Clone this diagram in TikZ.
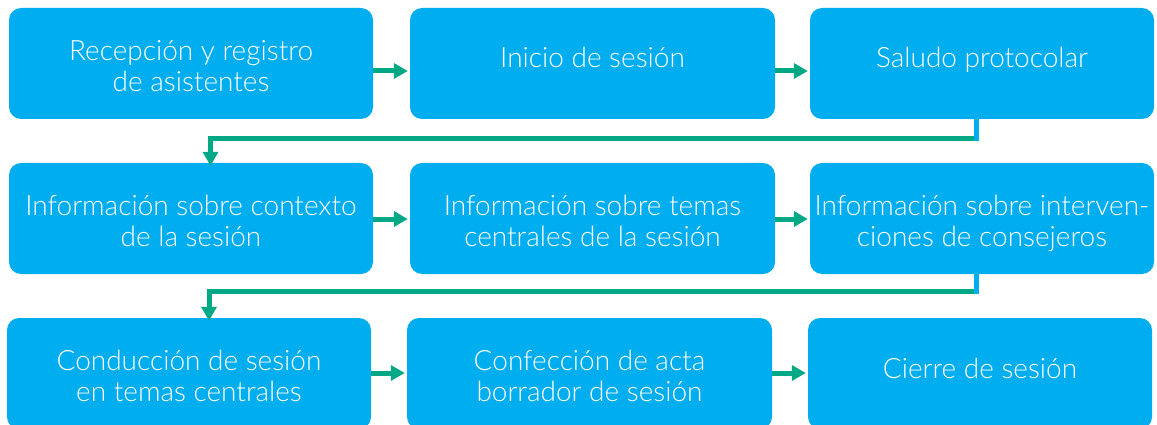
\documentclass[tikz,border=0pt]{standalone}
\usepackage{fontspec}
\setmainfont{Lato Light}
\usetikzlibrary{arrows.meta,calc}
\definecolor{boxblue}{HTML}{00AEEF}
\definecolor{flowgreen}{HTML}{00A886}
\newcommand\sA{\rule{0pt}{22pt}}
\newcommand\sB{\rule[-8pt]{0pt}{0pt}}
\begin{document}
\begin{tikzpicture}[x=1pt,y=-1pt,
  stepbox/.style={rectangle,rounded corners=12pt,fill=boxblue,
    minimum height=111pt,inner sep=0pt},
  lbl/.style={text=white,inner sep=0pt,align=center,
    font=\fontsize{28}{31}\selectfont},
  flow/.style={draw=flowgreen,line width=5pt,-{Triangle[length=14pt,width=15pt]}},
  stub/.style={draw=boxblue,line width=5pt}]
\clip (0,0) rectangle (1157,425);
\fill[white] (0,0) rectangle (1157,425);
% row 1
\node[stepbox,minimum width=364pt] (b1) at (191,63.5) {};
\node[stepbox,minimum width=365pt] (b2) at (592.5,63.5) {};
\node[stepbox,minimum width=344pt] (b3) at (982,63.5) {};
% row 2
\node[stepbox,minimum width=364pt] (b4) at (191,218.5) {};
\node[stepbox,minimum width=365pt] (b5) at (592.5,218.5) {};
\node[stepbox,minimum width=344pt] (b6) at (982,218.5) {};
% row 3
\node[stepbox,minimum width=364pt] (b7) at (189,373.5) {};
\node[stepbox,minimum width=365pt] (b8) at (589.5,373.5) {};
\node[stepbox,minimum width=344pt] (b9) at (980,373.5) {};
% texts
\node[lbl] (t1) at ($(b1.center)+(0,6)$) {\sA Recepción y registro\sB\\\sA de asistentes\sB};
\node[lbl] (t2) at ($(b2.center)+(0,-2.5)$) {\sA Inicio de sesión\sB};
\node[lbl] (t3) at ($(b3.center)+(0,-2.5)$) {\sA Saludo protocolar\sB};
\node[lbl] (t4) at ($(b4.center)+(0,5)$) {\sA Información sobre contexto\sB\\\sA de la sesión\sB};
\node[lbl] (t5) at ($(b5.center)+(0,5)$) {\sA Información sobre temas\sB\\\sA centrales de la sesión\sB};
\node[lbl] (t6) at ($(b6.center)+(0,5)$) {\sA Información sobre interven-\sB\\\sA ciones de consejeros\sB};
\node[lbl] (t7) at ($(b7.center)+(0,5)$) {\sA Conducción de sesión\sB\\\sA en temas centrales\sB};
\node[lbl] (t8) at ($(b8.center)+(0,5)$) {\sA Confección de acta\sB\\\sA borrador de sesión\sB};
\node[lbl] (t9) at ($(b9.center)+(0,-2.5)$) {\sA Cierre de sesión\sB};
% horizontal arrows
\draw[flow] (b1.east |- 0,71) -- ([xshift=-2pt]b2.west |- 0,71);
\draw[flow] (b2.east |- 0,71) -- ([xshift=-2pt]b3.west |- 0,71);
\draw[flow] (b4.east |- 0,219) -- ([xshift=-2pt]b5.west |- 0,219);
\draw[flow] (b5.east |- 0,219) -- ([xshift=-2pt]b6.west |- 0,219);
\draw[flow] (b7.east |- 0,373) -- ([xshift=-2pt]b8.west |- 0,373);
\draw[flow] (b8.east |- 0,373) -- ([xshift=-2pt]b9.west |- 0,373);
% elbow connectors
\coordinate (e1) at (976.5,138.5);
\coordinate (e2) at (976.5,291);
\draw[flow] ([xshift=2.5pt]e1) -- (210.5,138.5) -- ([yshift=-3pt]b4.north -| 210.5,0);
\draw[stub] (b3.south -| e1) -- ([yshift=-2.5pt]e1);
\draw[flow] ([xshift=2.5pt]e2) -- (209,291) -- ([yshift=-3pt]b7.north -| 209,0);
\draw[stub] (b6.south -| e2) -- ([yshift=-2.5pt]e2);
\end{tikzpicture}
\end{document}
